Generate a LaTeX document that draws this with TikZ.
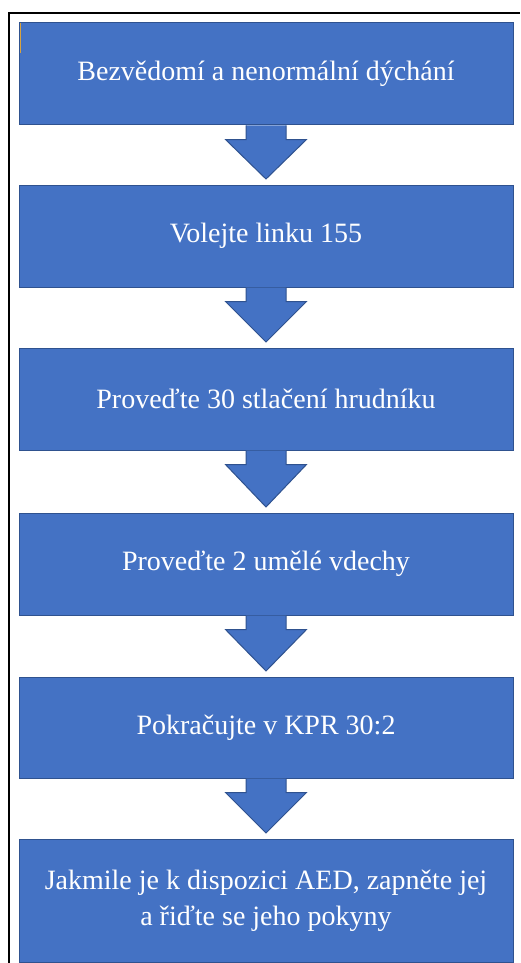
\documentclass[tikz,border=0pt]{standalone}
\usepackage{fontspec}
\setmainfont{Liberation Serif}
\usetikzlibrary{calc}
\definecolor{boxfill}{HTML}{4472C4}
\definecolor{boxline}{HTML}{2F528F}
\definecolor{cursor}{HTML}{D9A33F}
\tikzset{
  stepbox/.style={rectangle, draw=boxline, line width=1pt, fill=boxfill,
    minimum width=494pt, inner sep=0pt, text=white, align=center,
    font=\fontsize{28}{36}\selectfont},
  blockarrow/.style={draw=boxline, line width=1pt, fill=boxfill, line join=miter}
}
\newcommand\blockarr[2]{%
  \draw[blockarrow] ($(#1.south)+(-20,0)$) -- ($(#1.south)+(-20,-14)$)
    -- ($(#1.south)+(-40.5,-14)$) -- ($(#2.north)+(0,5.5)$)
    -- ($(#1.south)+(40.5,-14)$) -- ($(#1.south)+(20,-14)$)
    -- ($(#1.south)+(20,0)$);}
\begin{document}
\begin{tikzpicture}[x=1pt,y=1pt]
\useasboundingbox (0,0) rectangle (520,-963);
\fill[white] (0,0) rectangle (520,-963);
\draw[line width=2pt] (9,-963) -- (9,-13) -- (520,-13);
\node[stepbox, minimum height=102pt] (b1) at (266,-74) {Bezvědomí a nenormální dýchání};
\node[stepbox, minimum height=102pt] (b2) at (266,-236) {Volejte linku 155};
\node[stepbox, minimum height=102pt] (b3) at (266,-399) {Proveďte 30 stlačení hrudníku};
\node[stepbox, minimum height=102pt] (b4) at (266,-564) {Proveďte 2 umělé vdechy};
\node[stepbox, minimum height=101pt] (b5) at (266,-727.5) {Pokračujte v KPR 30:2};
\node[stepbox, minimum height=123pt] (b6) at (266,-900.5) {Jakmile je k dispozici AED, zapněte jej\\a řiďte se jeho pokyny};
\blockarr{b1}{b2}
\blockarr{b2}{b3}
\blockarr{b3}{b4}
\blockarr{b4}{b5}
\blockarr{b5}{b6}
\coordinate (c1) at (20.7,-23.5);
\coordinate (c2) at (20.7,-53);
\draw[cursor, line width=1pt] (c1) -- (c2);
\end{tikzpicture}
\end{document}
